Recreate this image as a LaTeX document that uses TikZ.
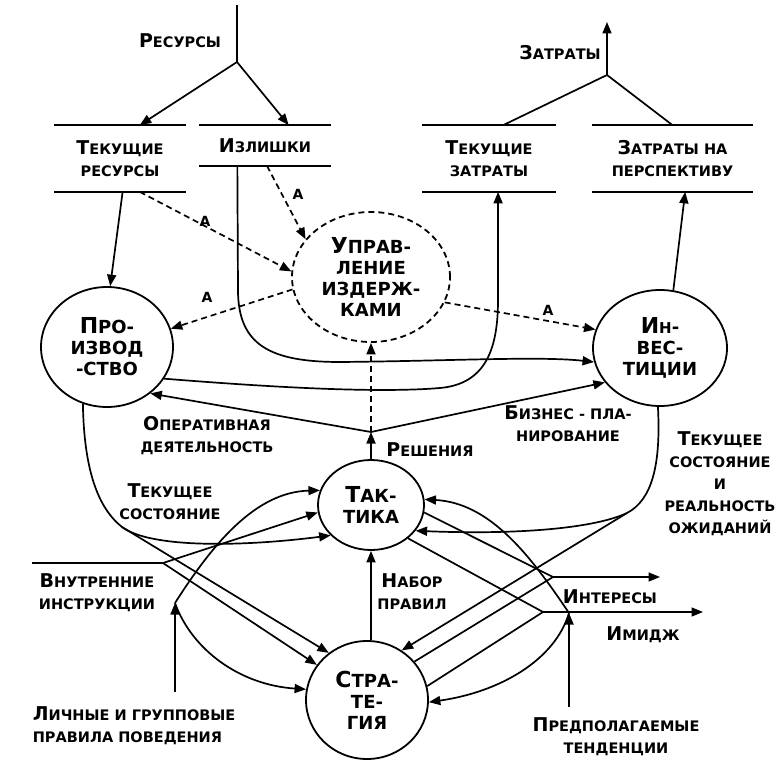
\documentclass[tikz,border=0pt]{standalone}
\usepackage{fontspec}
\setmainfont{DejaVu Sans}
\newfontfamily\lblfont{DejaVu Sans Bold}
\usetikzlibrary{arrows.meta,shapes.geometric,calc}
\newcommand{\fl}[1]{{\fontsize{19}{19}\selectfont #1}}
\newcommand{\cfl}[1]{{\fontsize{22}{22}\selectfont #1}}
\begin{document}
\begin{tikzpicture}[x=1pt,y=-1pt,
  line width=1.7pt,
  >={Triangle[length=11.5pt,width=9pt]},
  lbl/.style={font=\lblfont\fontsize{14.5}{22}\selectfont, align=center, inner sep=0pt},
  alab/.style={font=\lblfont\fontsize{14}{14}\selectfont, inner sep=0pt},
  circ/.style={ellipse, draw, line width=1.8pt, inner sep=0pt, font=\lblfont\fontsize{18}{21}\selectfont, align=center},
  store/.style={inner sep=0pt, align=center, font=\lblfont\fontsize{14.5}{22}\selectfont},
  dsh/.style={dash pattern=on 6pt off 4pt},
]
\useasboundingbox (0,0) rectangle (782,767);

% circles
\node[circ, minimum width=132pt, minimum height=120pt] (prod) at (107,347) {\cfl{П}РО-\\ИЗВОД\\-СТВО};
\node[circ, dsh, minimum width=158pt, minimum height=130pt] (upr) at (371,277) {\cfl{У}ПРАВ-\\ЛЕНИЕ\\ИЗДЕРЖ-\\КАМИ};
\node[circ, minimum width=134pt, minimum height=116pt] (inv) at (660,348) {\cfl{И}{\fontsize{15}{15}\selectfont Н}-\\ВЕС-\\ТИЦИИ};
\node[circ, minimum width=106pt, minimum height=90pt] (takt) at (371,505) {\cfl{Т}АК-\\ТИКА};
\node[circ, minimum width=122pt, minimum height=118pt] (strat) at (367,700) {\cfl{С}ТРА-\\ТЕ-\\ГИЯ};

% stores
\node[store, minimum width=130pt, minimum height=65pt] (tr) at (120,158.5) {\fl{Т}ЕКУЩИЕ\\РЕСУРСЫ};
\node[store, minimum width=130pt, minimum height=39pt] (izl) at (265,145.5) {\fl{И}ЗЛИШКИ};
\node[store, minimum width=132pt, minimum height=65pt] (tz) at (489,158.5) {\fl{Т}ЕКУЩИЕ\\ЗАТРАТЫ};
\node[store, minimum width=159pt, minimum height=65pt] (zp) at (672.5,158.5) {\fl{З}АТРАТЫ НА\\ПЕРСПЕКТИВУ};
\foreach \s in {tr,izl,tz,zp}{
  \draw (\s.north west) -- (\s.north east) (\s.south west) -- (\s.south east);
}

% labels
\node[lbl] (res) at (180,41) {\fl{Р}ЕСУРСЫ};
\node[lbl] (zat) at (560,53) {\fl{З}АТРАТЫ};
\node[lbl] (opl) at (207,436) {\fl{О}ПЕРАТИВНАЯ\\ДЕЯТЕЛЬНОСТЬ};
\node[lbl] (biz) at (568,424) {\fl{Б}ИЗНЕС - ПЛА-\\НИРОВАНИЕ};
\node[lbl] (resh) at (430,450) {\fl{Р}ЕШЕНИЯ};
\node[lbl] (tsl) at (170,501.5) {\fl{Т}ЕКУЩЕЕ\\СОСТОЯНИЕ};
\node[lbl] (tsr) at (720,483.5) {\fl{Т}ЕКУЩЕЕ\\СОСТОЯНИЕ\\И\\РЕАЛЬНОСТЬ\\ОЖИДАНИЙ};
\node[lbl] (nab) at (412,592) {\fl{Н}АБОР\\ПРАВИЛ};
\node[lbl] (intl) at (610,597) {\fl{И}НТЕРЕСЫ};
\node[lbl] (img) at (643,635) {\fl{И}МИДЖ};
\node[lbl] (pred) at (616,737) {\fl{П}РЕДПОЛАГАЕМЫЕ\\ТЕНДЕНЦИИ};
\node[lbl] (vnl) at (97,592.5) {\fl{В}НУТРЕННИЕ\\ИНСТРУКЦИИ};
\node[lbl, anchor=west, align=left] (lgl) at (32,726) {\fl{Л}ИЧНЫЕ И ГРУППОВЫЕ\\ПРАВИЛА ПОВЕДЕНИЯ};
\node[alab] (a1) at (205,221) {А};
\node[alab] (a2) at (298,194) {А};
\node[alab] (a3) at (207,297) {А};
\node[alab] (a4) at (548,310) {А};

% coordinates
\coordinate (rtop) at (237,5);
\coordinate (rj) at (237,62);
\coordinate (zj) at (607,75);
\coordinate (ztop) at (607,22);
\coordinate (dj) at (371,432);
\coordinate (ts) at (122,527);
\coordinate (vs) at (32,563);
\coordinate (vi) at (163,563);
\coordinate (lgb) at (175,692);
\coordinate (lg) at (175,603);
\coordinate (ir) at (627,513);
\coordinate (ptb) at (569,707);
\coordinate (pt) at (569,613);
\coordinate (ij) at (553,577);
\coordinate (ie) at (660,577);
\coordinate (mj) at (543,612);
\coordinate (me) at (703,612);

% top trees
\draw (rtop) -- (rj);
\draw[->] (rj) -- ($(tr.north west)!.65!(tr.north east)$);
\draw[->] (rj) -- ($(izl.north west)!.68!(izl.north east)$);
\draw[->] (zj) -- (ztop);
\draw (zj) -- ($(tz.north west)!.606!(tz.north east)$);
\draw (zj) -- ($(zp.north west)!.5!(zp.north east)$);

% store connections
\draw[->] ($(tr.south west)!.52!(tr.south east)$) -- (prod.87);
\draw[->,dsh] ($(tr.south west)!.65!(tr.south east)$) -- (upr.176);
\draw[->,dsh] ($(izl.south west)!.515!(izl.south east)$) -- (upr.150);
\draw[->,dsh] (upr.189) -- (prod.16);
\draw[->,dsh] (upr.341) -- (inv.164);
\draw[->] ($(izl.south west)!.29!(izl.south east)$) -- (238,290) .. controls (238,345) and (270,362) .. (340,362) .. controls (450,361) and (540,356) .. (inv.192);
\draw[->] (prod.331) .. controls (280,388) and (380,393) .. (440,388) .. controls (485,384) and (498,350) .. (498,300) -- ($(tz.south west)!.568!(tz.south east)$);
\draw[->] (inv.77) -- ($(zp.south west)!.579!(zp.south east)$);

% decisions
\draw[->] (takt.north) -- (dj);
\draw[->,dsh] (dj) -- (upr.south);
\draw[->] (dj) -- (prod.313);
\draw[->] (dj) -- (inv.212);

% left inputs
\draw[->] (prod.247) .. controls (84,470) and (98,508) .. (ts) .. controls (150,548) and (240,547) .. (takt.217);
\draw[->] (ts) -- (strat.129);
\draw (vs) -- (vi);
\draw[->] (vi) -- (takt.188);
\draw[->] (vi) -- (strat.145);
\draw[->] (lgb) -- (lg);
\draw[->] (lg) .. controls (212,545) and (255,492) .. (takt.164);
\draw[->] (lg) .. controls (192,650) and (240,685) .. (strat.170);

% rules
\draw[->] (strat.north -| takt.south) -- (takt.south);

% right inputs
\draw[->] (inv.268) .. controls (661,465) and (652,500) .. (ir) .. controls (595,528) and (520,535) .. (takt.330);
\draw[->] (ir) -- (strat.55);
\draw[->] (ptb) -- (pt);
\draw[->] (pt) .. controls (530,555) and (490,503) .. (takt.6);
\draw[->] (pt) .. controls (555,660) and (500,692) .. (strat.358);

% outputs
\draw[->] (takt.352) -- (ij) -- (ie);
\draw (strat.39) -- (ij);
\draw[->] (takt.318) -- (mj) -- (me);
\draw (strat.13) -- (mj);
\end{tikzpicture}
\end{document}
